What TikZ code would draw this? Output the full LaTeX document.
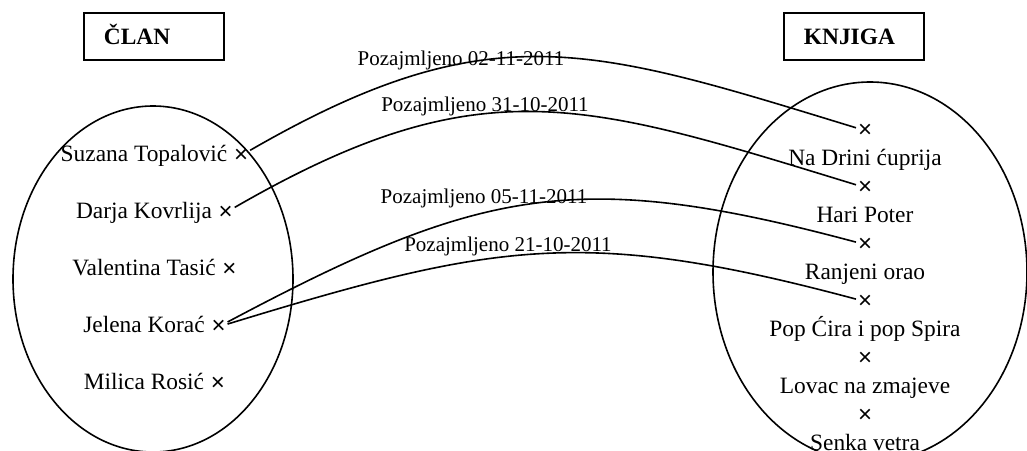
\documentclass[tikz,border=0pt]{standalone}
\usepackage{fontspec}
\setmainfont{Liberation Serif}
\newfontfamily\crossfont{Liberation Sans}
\usetikzlibrary{shapes}
\usetikzlibrary{positioning}

\begin{document}
\begin{tikzpicture}
  [x=0.5pt, y=-0.5pt,
   every node/.style = {inner sep=0pt},
   every path/.style = {line width=0.8pt},
   title/.style = {draw, line width=0.9pt, anchor=north west,
     minimum width=70pt, minimum height=23.5pt, inner xsep=10pt,
     text width=50pt, align=left, text height=7.7pt, text depth=0pt,
     font=\fontsize{11.7}{14}\selectfont\bfseries},
   set/.style = {draw, ellipse},
   member/.style = {font=\fontsize{11.7}{14}\selectfont,
     text height=8pt, text depth=2.5pt},
   xmark/.style = {font=\crossfont\fontsize{12}{14}\selectfont, inner sep=0.6pt},
   loan/.style = {font=\fontsize{10.5}{12}\selectfont, anchor=base}]
  \useasboundingbox (0,0) rectangle (1027,450);

  \node [title] (clan) at (83,12) {ČLAN};
  \node [title] (knjiga) at (783,12) {KNJIGA};

  \node [set, minimum width=140pt, minimum height=173pt] (clanovi) at (153,279) {};
  \node [set, minimum width=157pt, minimum height=190pt] (knjige) at (870,272) {};

  \node [member] (n1) at (144,155.5) {Suzana Topalović};
  \node [member, below=17.25pt of n1] (n2) {Darja Kovrlija};
  \node [member, below=17.25pt of n2] (n3) {Valentina Tasić};
  \node [member, below=17.25pt of n3] (n4) {Jelena Korać};
  \node [member, below=17.25pt of n4] (n5) {Milica Rosić};

  \node [xmark, right=2pt of n1] (s1) {×};
  \node [xmark, right=2pt of n2] (s2) {×};
  \node [xmark, right=2pt of n3] (s3) {×};
  \node [xmark, right=2pt of n4] (s4) {×};
  \node [xmark, right=2pt of n5] (s5) {×};

  \node [member] (k1) at (865,159.5) {Na Drini ćuprija};
  \node [member, below=17.2pt of k1] (k2) {Hari Poter};
  \node [member, below=17.2pt of k2] (k3) {Ranjeni orao};
  \node [member, below=17.2pt of k3] (k4) {Pop Ćira i pop Spira};
  \node [member, below=17.2pt of k4] (k5) {Lovac na zmajeve};
  \node [member, below=17.2pt of k5] (k6) {Senka vetra};

  \node [xmark, above=4.5pt of k1] (b1) {×};
  \node [xmark, above=4.5pt of k2] (b2) {×};
  \node [xmark, above=4.5pt of k3] (b3) {×};
  \node [xmark, above=4.5pt of k4] (b4) {×};
  \node [xmark, above=4.5pt of k5] (b5) {×};
  \node [xmark, above=4.5pt of k6] (b6) {×};

  \draw (s1) to [out=30, in=163, looseness=1.17] (b1);
  \draw (s2) to [out=30, in=163, looseness=1.17] (b2);
  \draw (s4) to [out=28, in=165, looseness=1.16] (b3);
  \draw (s4) to [out=17, in=165, looseness=1.14] (b4);

  \node [loan] (p1) at (461,65) {Pozajmljeno 02-11-2011};
  \node [loan] (p2) at (485,111) {Pozajmljeno 31-10-2011};
  \node [loan] (p3) at (484,203) {Pozajmljeno 05-11-2011};
  \node [loan] (p4) at (508,251) {Pozajmljeno 21-10-2011};
\end{tikzpicture}
\end{document}
